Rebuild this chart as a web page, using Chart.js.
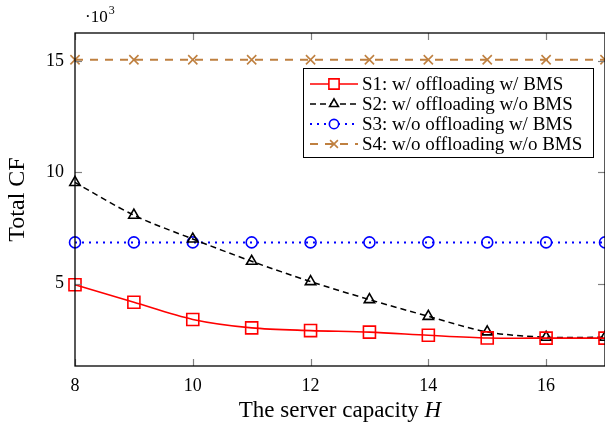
<!DOCTYPE html>
<html><head><meta charset="utf-8">
<script src="https://cdn.jsdelivr.net/npm/chart.js@4.4.0/dist/chart.umd.min.js"></script>
<style>html,body{margin:0;padding:0;background:#fff}canvas{display:block}</style>
</head><body>
<canvas id="c" width="605" height="430"></canvas>
<script>
const capacities = [8, 9, 10, 11, 12, 13, 14, 15, 16, 17];
const s1 = [4.95, 4.16, 3.39, 3.01, 2.89, 2.82, 2.68, 2.56, 2.55, 2.55];
const s2 = [9.54, 8.07, 7.0, 6.0, 5.09, 4.28, 3.53, 2.83, 2.59, 2.59];
const s3 = [6.85, 6.85, 6.85, 6.85, 6.85, 6.85, 6.85, 6.85, 6.85, 6.85];
const s4 = [15.05, 15.05, 15.05, 15.05, 15.05, 15.05, 15.05, 15.05, 15.05, 15.05];
const seriesLabels = ['S1: w/ offloading w/ BMS', 'S2: w/ offloading w/o BMS', 'S3: w/o offloading w/ BMS', 'S4: w/o offloading w/o BMS'];
const xTicks = [8, 10, 12, 14, 16];
const yTicks = [5, 10, 15];

const SERIF = '"Liberation Serif", "DejaVu Serif", serif';
const toPts = arr => arr.map((v, i) => ({x: capacities[i], y: v}));

const styles = [
  {color: '#ff0000', dash: [], pointStyle: 'rect', r: 8.5, tension: 0.3, width: 1.6},
  {color: '#000000', dash: [6, 4], pointStyle: 'triangle', r: 6, tension: 0.3, width: 1.5},
  {color: '#0000ff', dash: [2, 5], pointStyle: 'circle', r: 5.5, tension: 0, width: 2},
  {color: '#bf8040', dash: [8, 7], pointStyle: 'crossRot', r: 6.5, tension: 0, width: 2}
];
const data = [s1, s2, s3, s4];

const datasets = data.map((d, i) => ({
  label: seriesLabels[i],
  data: toPts(d),
  borderColor: styles[i].color,
  backgroundColor: 'rgba(0,0,0,0)',
  borderWidth: styles[i].width,
  borderDash: styles[i].dash,
  pointStyle: styles[i].pointStyle,
  pointRadius: styles[i].r,
  pointBorderColor: styles[i].color,
  pointBackgroundColor: 'rgba(0,0,0,0)',
  pointBorderWidth: 1.6,
  tension: styles[i].tension,
  clip: false
}));

const decor = {
  id: 'decor',
  afterDatasetsDraw(chart) {
    const ctx = chart.ctx, a = chart.chartArea;
    const xs = chart.scales.x, ys = chart.scales.y;
    ctx.save();
    ctx.strokeStyle = '#808080'; ctx.lineWidth = 1.2; ctx.setLineDash([]);
    xTicks.forEach(t => {
      const x = Math.round(xs.getPixelForValue(t)) + 0.5;
      ctx.beginPath(); ctx.moveTo(x, a.bottom); ctx.lineTo(x, a.bottom - 7); ctx.stroke();
      ctx.beginPath(); ctx.moveTo(x, a.top); ctx.lineTo(x, a.top + 7); ctx.stroke();
    });
    yTicks.forEach(t => {
      const y = Math.round(ys.getPixelForValue(t)) + 0.5;
      ctx.beginPath(); ctx.moveTo(a.left, y); ctx.lineTo(a.left + 7, y); ctx.stroke();
      ctx.beginPath(); ctx.moveTo(a.right, y); ctx.lineTo(a.right - 7, y); ctx.stroke();
    });
    ctx.strokeStyle = '#000'; ctx.lineWidth = 1.3;
    ctx.strokeRect(a.left, a.top, a.right - a.left, a.bottom - a.top);

    // legend
    const lx = 303, ly = 68, lw = 290, lh = 89;
    ctx.fillStyle = '#fff'; ctx.fillRect(lx, ly, lw, lh);
    ctx.strokeStyle = '#000'; ctx.lineWidth = 1;
    ctx.strokeRect(lx + 0.5, ly + 0.5, lw, lh);
    const rows = [84, 104, 124, 144];
    rows.forEach((ry, i) => {
      const s = styles[i];
      ctx.strokeStyle = s.color; ctx.lineWidth = s.width; ctx.setLineDash(s.dash);
      ctx.beginPath(); ctx.moveTo(310, ry); ctx.lineTo(358, ry); ctx.stroke();
      ctx.setLineDash([]);
      ctx.lineWidth = 1.6; ctx.strokeStyle = s.color; ctx.fillStyle = '#fff';
      Chart.helpers.drawPoint(ctx, {pointStyle: s.pointStyle, radius: s.r * 0.85, rotation: 0, borderWidth: 1.6}, 334, ry);
      ctx.fillStyle = '#000'; ctx.font = '19px ' + SERIF;
      ctx.textAlign = 'left'; ctx.textBaseline = 'middle';
      ctx.fillText(seriesLabels[i], 362, ry + 1);
    });

    ctx.fillStyle = '#000'; ctx.textBaseline = 'alphabetic'; ctx.textAlign = 'left';
    ctx.font = '17px ' + SERIF;
    ctx.fillText('\u00b710', 85, 22);
    const w = ctx.measureText('\u00b710').width;
    ctx.font = '12px ' + SERIF;
    ctx.fillText('3', 85 + w + 1, 14);

    ctx.font = '23px ' + SERIF;
    const t1 = 'The server capacity ';
    const w1 = ctx.measureText(t1).width;
    ctx.font = 'italic 23px ' + SERIF;
    const w2 = ctx.measureText('H').width;
    const sx = 340 - (w1 + w2) / 2;
    ctx.font = '23px ' + SERIF;
    ctx.fillText(t1, sx, 417);
    ctx.font = 'italic 23px ' + SERIF;
    ctx.fillText('H', sx + w1, 417);
    ctx.restore();
  }
};

new Chart(document.getElementById('c'), {
  type: 'line',
  data: {datasets},
  options: {
    responsive: false,
    animation: false,
    devicePixelRatio: 1,
    layout: {autoPadding: false, padding: {left: 0, right: 0, top: 33, bottom: 0}},
    plugins: {legend: {display: false}, tooltip: {enabled: false}},
    scales: {
      x: {
        type: 'linear', min: 8, max: 17,
        afterBuildTicks: s => { s.ticks = xTicks.map(v => ({value: v})); },
        afterFit: s => { s.height = 64; s.paddingRight = 0; s.paddingLeft = 0; },
        grid: {display: false, drawTicks: false},
        border: {display: false},
        ticks: {color: '#000', font: {family: SERIF, size: 18}, padding: 9, maxRotation: 0}
      },
      y: {
        type: 'linear', min: 1.3, max: 16.25,
        afterBuildTicks: s => { s.ticks = yTicks.map(v => ({value: v})); },
        afterFit: s => { s.width = 75; s.paddingTop = 0; s.paddingBottom = 0; },
        grid: {display: false, drawTicks: false},
        border: {display: false},
        ticks: {color: '#000', font: {family: SERIF, size: 18}, padding: 11},
        title: {display: true, text: 'Total CF', color: '#000', font: {family: SERIF, size: 24}, padding: {top: 3, bottom: 0}}
      }
    }
  },
  plugins: [decor]
});
</script>
</body></html>
